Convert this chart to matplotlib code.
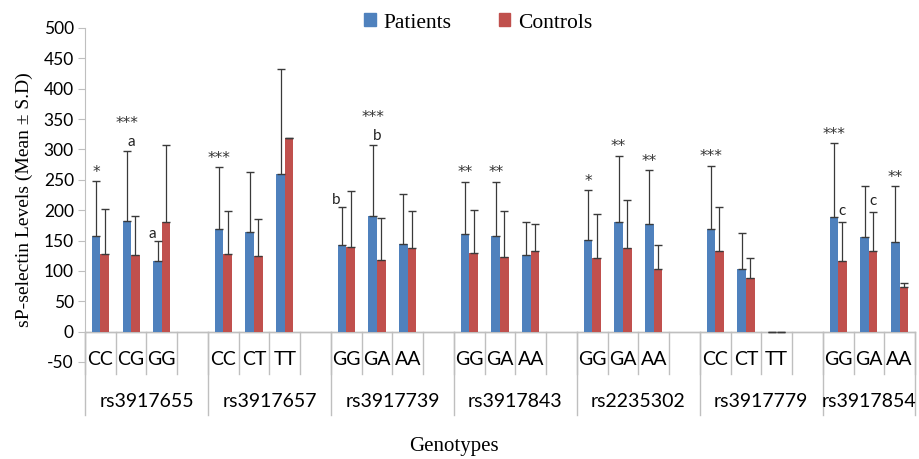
import matplotlib
matplotlib.use("Agg")
import matplotlib.pyplot as plt
from matplotlib.patches import Patch
import numpy as np

plt.rcParams['axes.unicode_minus'] = False

snps = ["rs3917655", "rs3917657", "rs3917739", "rs3917843", "rs2235302", "rs3917779", "rs3917854"]
genotypes = [["CC", "CG", "GG"], ["CC", "CT", "TT"], ["GG", "GA", "AA"], ["GG", "GA", "AA"],
             ["GG", "GA", "AA"], ["CC", "CT", "TT"], ["GG", "GA", "AA"]]

patients_mean = [157, 183, 117, 169, 164, 260, 142, 191, 145, 160, 158, 127, 151, 180, 177, 169, 103, 0, 188, 156, 148]
patients_sd = [91, 115, 32, 102, 99, 172, 64, 117, 81, 87, 89, 53, 82, 110, 89, 104, 60, 0, 122, 83, 91]
controls_mean = [128, 126, 180, 128, 124, 319, 140, 118, 138, 129, 123, 133, 121, 138, 103, 132, 88, 0, 117, 132, 74]
controls_sd = [74, 64, 127, 71, 62, 0, 91, 69, 60, 71, 75, 45, 73, 78, 40, 73, 33, 0, 63, 65, 6]

# annotations: (bar index, series, text)
stars = [(0, 'P', '*'), (1, 'P', '***'), (3, 'P', '***'), (7, 'P', '***'), (9, 'P', '**'), (10, 'P', '**'),
         (12, 'P', '*'), (13, 'P', '**'), (14, 'P', '**'), (15, 'P', '***'), (18, 'P', '***'), (20, 'P', '**')]
letters = [(1, 'P', 'a', 0, 'above_star'), (2, 'P', 'a', -4, 'left'), (6, 'P', 'b', -4, 'left'),
           (7, 'P', 'b', 0, 'above_star'), (18, 'C', 'c', 0, 'top'), (19, 'C', 'c', 0, 'top')]

blue = '#4F81BD'
red = '#C0504D'
grid_gray = '#BFBFBF'

fig = plt.figure(figsize=(9.19, 4.59), dpi=100)
ax = fig.add_axes([85/919, 97/459, 830/919, 334/459])

slots = []
for g in range(len(snps)):
    for j in range(len(genotypes[g])):
        slots.append(4*g + j + 0.5)
slots = np.array(slots)
w = 0.28

pm = np.array(patients_mean, float); ps = np.array(patients_sd, float)
cm = np.array(controls_mean, float); cs = np.array(controls_sd, float)

xb = slots - w/2
xr = slots + w/2
ax.bar(xb, pm, w, color=blue, zorder=2)
ax.bar(xr, cm, w, color=red, zorder=2)
ekw = dict(fmt='none', ecolor='#3a3a3a', elinewidth=0.9, capsize=2.6, capthick=1.0, zorder=3)
ax.errorbar(xb, pm, yerr=[np.zeros_like(ps), ps], **ekw)
ax.errorbar(xr, cm, yerr=[np.zeros_like(cs), cs], **ekw)

top_p = pm + ps
top_c = cm + cs

def pos(i, s):
    return (xb[i], top_p[i]) if s == 'P' else (xr[i], top_c[i])

star_has_letter = {1, 7}
for i, s, t in stars:
    x, y = pos(i, s)
    dy = 14 if i in star_has_letter else 1
    ax.annotate(t, xy=(x, y), xytext=(0, dy), textcoords='offset points', ha='center', va='bottom',
                fontsize=11, color='#333333', family='DejaVu Sans')
for i, s, t, dx, mode in letters:
    x, y = pos(i, s)
    if mode == 'above_star':
        ax.annotate(t, xy=(x, y), xytext=(3, 1), textcoords='offset points', ha='center', va='bottom',
                    fontsize=11, color='#222222', family='Lato')
    elif mode == 'left':
        ax.annotate(t, xy=(x, y), xytext=(dx, 0), textcoords='offset points', ha='center', va='bottom',
                    fontsize=11, color='#222222', family='Lato')
    else:
        ax.annotate(t, xy=(x, y), xytext=(0, 3), textcoords='offset points', ha='center', va='bottom',
                    fontsize=11, color='#222222', family='Lato')

ax.set_xlim(0, 27)
ax.set_ylim(-50, 500)
ax.set_yticks(np.arange(-50, 501, 50))
ax.tick_params(axis='y', length=5, color=grid_gray, labelsize=12.5, pad=3)
for lab in ax.get_yticklabels():
    lab.set_family('Lato')
ax.set_xticks([])
for sp in ['top', 'right', 'bottom']:
    ax.spines[sp].set_visible(False)
ax.spines['left'].set_color(grid_gray)
ax.axhline(0, color=grid_gray, lw=1, zorder=1)

# category axis
ax.plot([0, 27], [0, 0], color=grid_gray, lw=1, clip_on=False, zorder=1)
for b in range(28):
    ax.plot([b, b], [0, -69], color=grid_gray, lw=1, clip_on=False, zorder=1)
group_edges = [0, 4, 8, 12, 16, 20, 24, 27]
for b in group_edges:
    ax.plot([b, b], [0, -137], color=grid_gray, lw=1, clip_on=False, zorder=1)
for g in range(len(snps)):
    for j, gt in enumerate(genotypes[g]):
        ax.text(4*g + j + 0.5, -46, gt, ha='center', va='center', fontsize=14, family='Lato', clip_on=False)
    end = group_edges[g+1]
    ax.text((4*g + end)/2, -115, snps[g], ha='center', va='center', fontsize=14, family='Lato', clip_on=False)

fig.text(24/919, 1 - 200/459, 'sP-selectin Levels (Mean \u00b1 S.D)', rotation=90, ha='center', va='center',
         fontsize=14, family='Liberation Serif')
fig.text(454/919, 1 - 447/459, 'Genotypes', ha='center', va='center', fontsize=15, family='Liberation Serif')

handles = [Patch(color=blue, label='Patients'), Patch(color=red, label='Controls')]
fig.legend(handles=handles, loc='center', bbox_to_anchor=(478/919, 1 - 23/459), ncol=2, frameon=False,
           prop={'family': 'Liberation Serif', 'size': 15.5}, handlelength=0.55, handleheight=0.55,
           handletextpad=0.35, columnspacing=2.2)

fig.savefig('out.png', dpi=100)
